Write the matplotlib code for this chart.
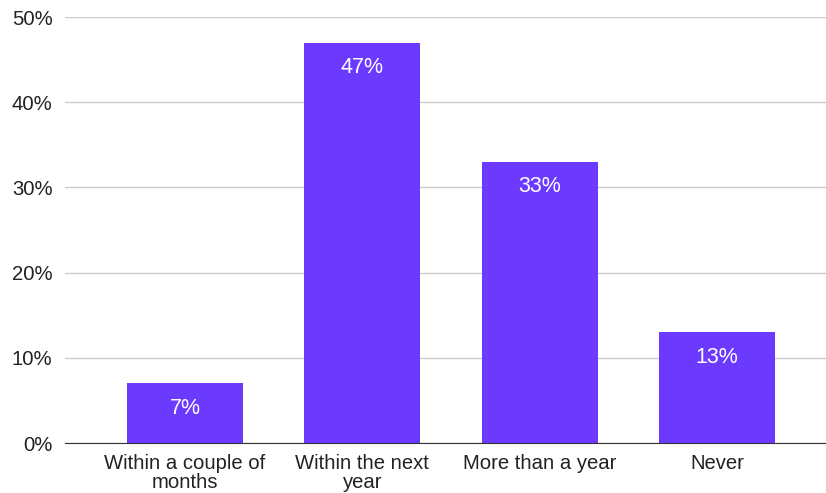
import numpy as np
import matplotlib.pyplot as plt
from matplotlib.ticker import FuncFormatter

categories = ["Within a couple of\nmonths", "Within the next\nyear", "More than a year", "Never"]
shares = [7, 47, 33, 13]
value_labels = ["7%", "47%", "33%", "13%"]

plt.rcParams['font.family'] = ['Liberation Sans', 'DejaVu Sans']

fig = plt.figure(figsize=(8.26, 4.93), dpi=100)
ax = fig.add_axes([0.0787, 0.1014, 0.9213, 0.8641])

x = np.arange(len(categories))
bars = ax.bar(x, shares, width=0.654, color='#6c3aff', zorder=3)

# value labels sit inside the top of each bar
for b, lab in zip(bars, value_labels):
    ax.annotate(lab, (b.get_x() + b.get_width() / 2, b.get_height()),
                xytext=(0, -10.5), textcoords='offset points',
                ha='center', va='top', color='white', fontsize=15.5, zorder=4)

ax.set_ylim(0, 50)
ax.set_xlim(-0.677, 3.615)
ax.set_yticks(range(0, 51, 10))
ax.yaxis.set_major_formatter(FuncFormatter(lambda v, p: f"{v:.0f}%"))
ax.grid(axis='y', color='#cccccc', linewidth=1, zorder=0)
ax.set_xticks(x)
ax.set_xticklabels(categories, fontsize=14.6, color='#222222', linespacing=1.0)

for s in ['top', 'right', 'left']:
    ax.spines[s].set_visible(False)
ax.spines['bottom'].set_color('#333333')
ax.spines['bottom'].set_zorder(5)
ax.tick_params(axis='both', length=0, colors='#222222')
ax.tick_params(axis='y', labelsize=14.6, pad=9)
ax.tick_params(axis='x', pad=8)

fig.savefig('out.png', dpi=100)
